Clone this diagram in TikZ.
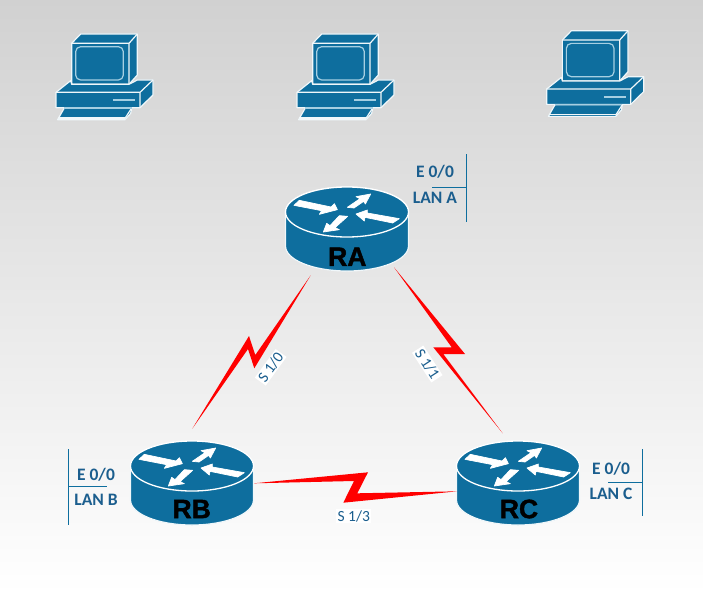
\documentclass[tikz,border=0pt]{standalone}
\usepackage{fontspec}
\setmainfont{Carlito}
\newfontfamily\routerfont[BoldFeatures={FakeBold=1.6}]{Liberation Sans}
\definecolor{ciscoblue}{HTML}{0E6E9E}
\definecolor{edge}{HTML}{F0F7FA}
\definecolor{soft}{HTML}{A6CFE2}
\definecolor{labelblue}{HTML}{1B5E8E}
\definecolor{boltred}{HTML}{FF0000}
\tikzset{
  rname/.style={font=\routerfont\bfseries\fontsize{26.5}{26.5}\selectfont,text=black,inner sep=0pt},
  portlabel/.style={font=\bfseries\fontsize{17.5}{17.5}\selectfont,text=labelblue,inner sep=0pt},
  seriallabel/.style={font=\fontsize{15.5}{15.5}\selectfont,text=labelblue,fill=white,inner xsep=1.5pt,inner ysep=1pt},
  rule/.style={draw=ciscoblue,line width=1pt},
  bolt/.style={fill=boltred,draw=none},
  pics/workstation/.style={code={
    \begin{scope}[x=.33333pt,y=-.33333pt,draw=edge,line width=1.2pt,line join=round,fill=ciscoblue]
      % monitor
      \filldraw (125,70) -- (152,42) -- (322,42) -- (322,165) -- (297,193) -- (125,193) -- cycle;
      \draw (125,70) -- (297,70) -- (322,42) (297,70) -- (297,193);
      \draw[soft,rounded corners=5pt] (137,80) rectangle (280,180);
      % system unit
      \filldraw (78,217) -- (122,182) -- (125,193) -- (297,193) -- (322,180) -- (369,180) -- (369,225) -- (330,263) -- (78,263) -- cycle;
      \draw (78,217) -- (330,217) -- (369,180) (330,217) -- (330,263);
      \draw[soft,line width=1.8pt] (250,241) -- (315,241);
      % keyboard
      \filldraw (103,264) -- (305,264) -- (302,280) -- (285,299) -- (83,299) -- cycle;
      \draw (305,264) -- (285,295);
      \draw (85,294) -- (285,294);
      \draw[soft,line width=1.6pt] (103,264) -- (305,264);
    \end{scope}
  }},
  pics/routerunit/.style={code={
    % cylinder and top face
    \filldraw[fill=ciscoblue,draw=edge,line width=1.2pt]
      (-61.5,0) -- (-61.5,34) arc[start angle=180,end angle=360,x radius=61.5,y radius=-25]
      -- (61.5,0) arc[start angle=0,end angle=180,x radius=61.5,y radius=-25] -- cycle;
    \filldraw[fill=ciscoblue,draw=white,line width=1.3pt] (0,0) ellipse[x radius=61.5,y radius=25];
    % four arrows
    \begin{scope}[x=.33333pt,y=-.33333pt,shift={(-201,-90)},fill=white,draw=white,line width=.7pt,line join=round]
      \filldraw (58,55) -- (153,75) -- (163,65) -- (172,83) -- (118,97) -- (125,86) -- (42,70) -- cycle;
      \filldraw (202,76) -- (240,50) -- (228,44) -- (272,36) -- (256,66) -- (251,58) -- (222,78) -- cycle;
      \filldraw (228,96) -- (262,84) -- (262,93) -- (358,110) -- (338,123) -- (255,106) -- (253,117) -- cycle;
      \filldraw (130,150) -- (140,124) -- (150,131) -- (178,101) -- (203,103) -- (165,137) -- (178,143) -- cycle;
    \end{scope}
  }},
}
\begin{document}
\begin{tikzpicture}[x=1pt,y=-1pt]
  \useasboundingbox (0,0) rectangle (703,594);
  \shade[top color=black!18,middle color=black!7,bottom color=white] (0,0) rectangle (703,594);

  % workstations
  \pic at (30,20) {workstation};
  \pic at (271,20) {workstation};
  \pic at (520.7,16.7) {workstation};

  % routers
  \pic at (347,212) {routerunit};
  \pic at (192,466) {routerunit};
  \pic at (518,466) {routerunit};
  \node[rname] (RA) at (347.3,256.7) {RA};
  \node[rname] (RB) at (191.7,509) {RB};
  \node[rname] (RC) at (519,509) {RC};

  % link end points
  \coordinate (raLeft) at (310.7,275.3);
  \coordinate (rbTop) at (192.3,428.7);
  \coordinate (raRight) at (394,267.3);
  \coordinate (rcTop) at (502.7,433.3);
  \coordinate (rbRight) at (254,483.3);
  \coordinate (rcLeft) at (457.3,491.3);

  % serial links
  \fill[bolt] (raLeft) -- (254.3,368.3) -- (248,349) -- (rbTop) -- (249,336) -- (255.3,355) -- cycle;
  \fill[bolt] (raRight) -- (465,354) -- (443.3,354) -- (rcTop) -- (433.3,347.3) -- (451.7,347.3) -- cycle;
  \fill[bolt] (rbRight) -- (368,472.3) -- (357.3,493.3) -- (rcLeft) -- (343.3,502.7) -- (354,481) -- cycle;

  % serial interface labels
  \node[seriallabel,rotate=54] (s10) at (270.7,367.3) {S 1/0};
  \node[seriallabel,rotate=-57] (s11) at (427.3,364) {S 1/1};
  \node[seriallabel] (s13) at (353.7,516) {S 1/3};

  % LAN labels
  \node[portlabel] (ea) at (435,171.7) {E 0/0};
  \node[portlabel] (la) at (435,197.7) {LAN A};
  \coordinate (aTop) at (466.7,154);
  \coordinate (aBot) at (466.7,221.5);
  \coordinate (aMid) at (466.7,187.7);
  \coordinate (aEnd) at (432,187.7);
  \draw[rule] (aTop) -- (aBot) (aEnd) -- (aMid);

  \node[portlabel] (eb) at (96,475) {E 0/0};
  \node[portlabel] (lb) at (96,500) {LAN B};
  \coordinate (bTop) at (68.3,449);
  \coordinate (bBot) at (68.3,525);
  \coordinate (bMid) at (68.3,486.7);
  \coordinate (bEnd) at (106.7,486.7);
  \draw[rule] (bTop) -- (bBot) (bMid) -- (bEnd);

  \node[portlabel] (ec) at (611,469) {E 0/0};
  \node[portlabel] (lc) at (611,494.3) {LAN C};
  \coordinate (cTop) at (642.3,449);
  \coordinate (cBot) at (642.3,516);
  \coordinate (cMid) at (642.3,482.3);
  \coordinate (cEnd) at (608,482.3);
  \draw[rule] (cTop) -- (cBot) (cEnd) -- (cMid);
\end{tikzpicture}
\end{document}
